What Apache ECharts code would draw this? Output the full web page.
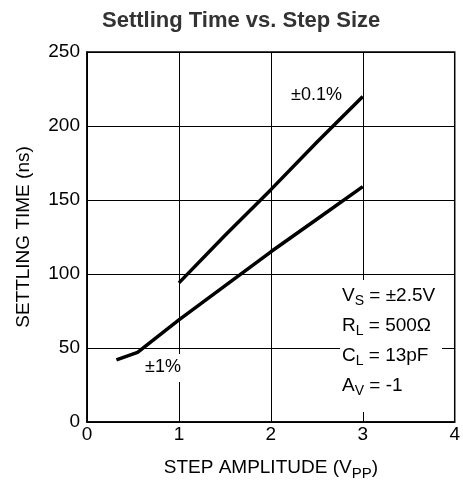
<!DOCTYPE html>
<html>
<head>
<meta charset="utf-8">
<script src="https://cdn.jsdelivr.net/npm/echarts@6/dist/echarts.min.js"></script>
<style>html,body{margin:0;padding:0;background:#fff}#c{width:463px;height:486px}</style>
</head>
<body>
<div id="c"></div>
<script>
var xTicks = [0, 1, 2, 3, 4];
var yTicks = [0, 50, 100, 150, 200, 250];
var stepFine = [1, 1.5, 2, 2.5, 3];
var timeFine = [94, 126, 157, 189, 220];
var stepCoarse = [0.32, 0.55, 1, 1.5, 2, 2.5, 3];
var timeCoarse = [42, 47, 69, 92, 115, 137, 159];
var labelFine = '±0.1%';
var labelCoarse = '±1%';

var FONT = 'Liberation Sans, Arial, sans-serif';
function pairs(xs, ys){ return xs.map(function(x,i){ return [x, ys[i]]; }); }

var chart = echarts.init(document.getElementById('c'));
chart.setOption({
  animation: false,
  title: {
    text: 'Settling Time vs. Step Size',
    left: 97, top: 5,
    textStyle: {fontFamily: FONT, fontSize: 22, fontWeight: 'bold', color: '#333'}
  },
  grid: {left: 87, right: 5, top: 52, bottom: 64, show: true, borderColor: '#000', borderWidth: 1.5, backgroundColor: 'transparent'},
  xAxis: {
    type: 'value', min: xTicks[0], max: xTicks[xTicks.length-1], interval: 1,
    name: 'STEP AMPLITUDE (V{sub|PP})', nameLocation: 'middle', nameGap: 33,
    nameTextStyle: {fontFamily: FONT, fontSize: 19, color: '#000',
      rich: {sub: {fontFamily: FONT, fontSize: 15, color: '#000', padding: [11,0,0,0]}}},
    axisLine: {lineStyle: {color: '#000', width: 1.5}},
    axisTick: {show: false},
    axisLabel: {fontFamily: FONT, fontSize: 19, color: '#000', margin: 3},
    splitLine: {lineStyle: {color: '#000', width: 1}}
  },
  yAxis: {
    type: 'value', min: yTicks[0], max: yTicks[yTicks.length-1], interval: 50,
    name: 'SETTLING TIME (ns)', nameLocation: 'middle', nameGap: 54,
    nameTextStyle: {fontFamily: FONT, fontSize: 19, color: '#000'},
    axisLine: {lineStyle: {color: '#000', width: 1.5}},
    axisTick: {show: false},
    axisLabel: {fontFamily: FONT, fontSize: 19, color: '#000', margin: 7},
    splitLine: {lineStyle: {color: '#000', width: 1}}
  },
  series: [
    {type: 'line', data: pairs(stepFine, timeFine), symbol: 'none', lineStyle: {color: '#000', width: 3.5}, z: 3},
    {type: 'line', data: pairs(stepCoarse, timeCoarse), symbol: 'none', lineStyle: {color: '#000', width: 3.5}, z: 3}
  ],
  graphic: [
    {type: 'rect', z: 1, shape: {x: 340, y: 280, width: 102, height: 132}, style: {fill: '#fff'}},
    {type: 'text', z: 2, left: 342, top: 281, style: {
      text: 'V{sub|S} = ±2.5V\nR{sub|L} = 500Ω\nC{sub|L} = 13pF\nA{sub|V} = -1',
      fontFamily: FONT, fontSize: 19, fill: '#000', lineHeight: 30,
      rich: {sub: {fontFamily: FONT, fontSize: 14, fill: '#000', padding: [11,0,0,0]}}
    }},
    {type: 'text', z: 2, left: 291, top: 86, style: {text: labelFine, fontFamily: FONT, fontSize: 18, fill: '#000'}},
    {type: 'text', z: 2, left: 143, top: 354, style: {text: labelCoarse, fontFamily: FONT, fontSize: 18, fill: '#000', backgroundColor: '#fff', padding: [4,2,6,2]}}
  ]
});
</script>
</body>
</html>
